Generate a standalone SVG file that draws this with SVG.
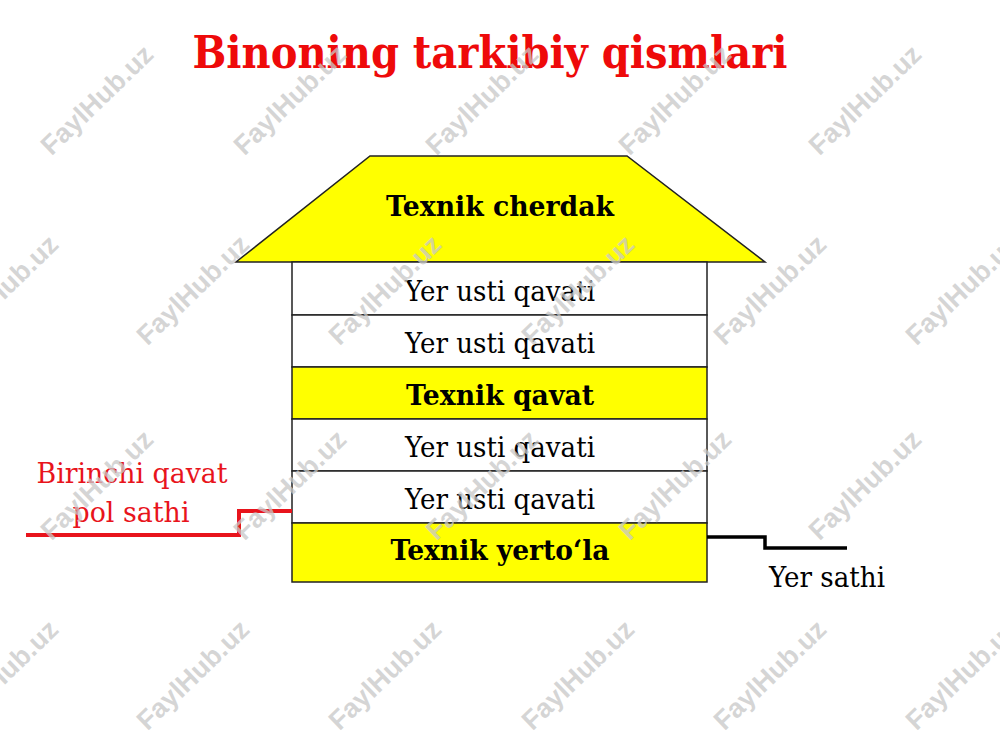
<svg xmlns="http://www.w3.org/2000/svg" width="1000" height="750" viewBox="0 0 1000 750">
<style>
.t{font-family:"DejaVu Serif","Liberation Serif",serif;text-anchor:middle}
.b{font-weight:bold}
.f{font-size:28px;fill:#000}
.red{fill:#e8141c}
.box{stroke:#222;stroke-width:1.5}
.y{fill:#ffff00}
.w{fill:#fff}
.wm{font-family:"Liberation Sans",Arial,sans-serif;font-weight:bold;font-size:27px;fill:#c8c8c8;fill-opacity:0.75;text-anchor:middle;dominant-baseline:central}
</style>
<rect width="1000" height="750" fill="#fff"/>
<text id="title" class="t b" x="490" y="68" font-size="44" fill="#ee0a0a" textLength="595" lengthAdjust="spacingAndGlyphs">Binoning tarkibiy qismlari</text>
<g id="cherdak">
<polygon class="box y" points="370,156 627,156 765,262 236,262"/>
<text class="t b f" x="500" y="216" textLength="228" lengthAdjust="spacingAndGlyphs">Texnik cherdak</text>
</g>
<g id="floor5">
<rect class="box w" x="292" y="262" width="415" height="53"/>
<text class="t f" x="500" y="301" textLength="190" lengthAdjust="spacingAndGlyphs">Yer usti qavati</text>
</g>
<g id="floor4">
<rect class="box w" x="292" y="315" width="415" height="52"/>
<text class="t f" x="500" y="353" textLength="190" lengthAdjust="spacingAndGlyphs">Yer usti qavati</text>
</g>
<g id="texnikqavat">
<rect class="box y" x="292" y="367" width="415" height="52"/>
<text class="t b f" x="500" y="405" textLength="188" lengthAdjust="spacingAndGlyphs">Texnik qavat</text>
</g>
<g id="floor2">
<rect class="box w" x="292" y="419" width="415" height="52"/>
<text class="t f" x="500" y="457" textLength="190" lengthAdjust="spacingAndGlyphs">Yer usti qavati</text>
</g>
<g id="floor1">
<rect class="box w" x="292" y="471" width="415" height="52"/>
<text class="t f" x="500" y="509" textLength="190" lengthAdjust="spacingAndGlyphs">Yer usti qavati</text>
</g>
<g id="yertola">
<rect class="box y" x="292" y="523" width="415" height="59"/>
<text class="t b f" x="500" y="560" textLength="219" lengthAdjust="spacingAndGlyphs">Texnik yerto‘la</text>
</g>
<g id="connectors" fill="none">
<polyline points="26,535 239,535 239,511 292,511" stroke="#e8141c" stroke-width="4"/>
<polyline points="707,537 765,537 765,548 847,548" stroke="#000" stroke-width="3.5"/>
</g>
<g id="label-pol">
<text class="t red" x="132" y="483" font-size="28" textLength="191" lengthAdjust="spacingAndGlyphs">Birinchi qavat</text>
<text class="t red" x="131" y="522" font-size="28" textLength="117" lengthAdjust="spacingAndGlyphs">pol sathi</text>
</g>
<g id="label-yer">
<text class="t" x="827" y="587" font-size="28" textLength="116" lengthAdjust="spacingAndGlyphs">Yer sathi</text>
</g>
<g id="watermarks">
<text class="wm" transform="translate(97,100) rotate(-44)">FaylHub.uz</text>
<text class="wm" transform="translate(290,100) rotate(-44)">FaylHub.uz</text>
<text class="wm" transform="translate(482,100) rotate(-44)">FaylHub.uz</text>
<text class="wm" transform="translate(675,100) rotate(-44)">FaylHub.uz</text>
<text class="wm" transform="translate(865,100) rotate(-44)">FaylHub.uz</text>
<text class="wm" transform="translate(2,290) rotate(-44)">FaylHub.uz</text>
<text class="wm" transform="translate(193,290) rotate(-44)">FaylHub.uz</text>
<text class="wm" transform="translate(385,290) rotate(-44)">FaylHub.uz</text>
<text class="wm" transform="translate(578,290) rotate(-44)">FaylHub.uz</text>
<text class="wm" transform="translate(770,290) rotate(-44)">FaylHub.uz</text>
<text class="wm" transform="translate(962,290) rotate(-44)">FaylHub.uz</text>
<text class="wm" transform="translate(97,485) rotate(-44)">FaylHub.uz</text>
<text class="wm" transform="translate(290,485) rotate(-44)">FaylHub.uz</text>
<text class="wm" transform="translate(482,485) rotate(-44)">FaylHub.uz</text>
<text class="wm" transform="translate(675,485) rotate(-44)">FaylHub.uz</text>
<text class="wm" transform="translate(865,485) rotate(-44)">FaylHub.uz</text>
<text class="wm" transform="translate(2,675) rotate(-44)">FaylHub.uz</text>
<text class="wm" transform="translate(193,675) rotate(-44)">FaylHub.uz</text>
<text class="wm" transform="translate(385,675) rotate(-44)">FaylHub.uz</text>
<text class="wm" transform="translate(578,675) rotate(-44)">FaylHub.uz</text>
<text class="wm" transform="translate(770,675) rotate(-44)">FaylHub.uz</text>
<text class="wm" transform="translate(962,675) rotate(-44)">FaylHub.uz</text>
</g>
</svg>
